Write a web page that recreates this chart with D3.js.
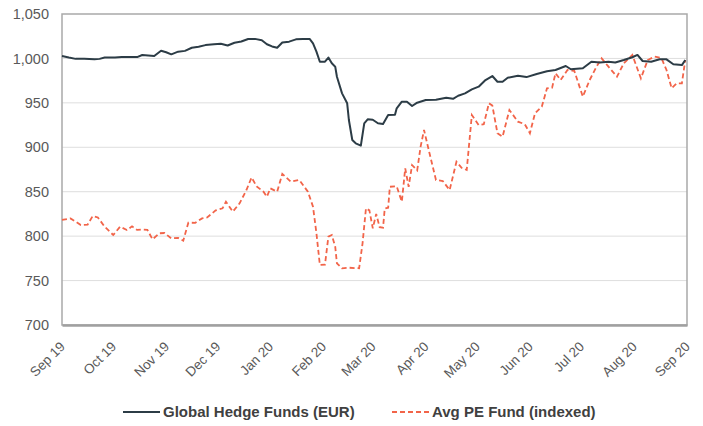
<!DOCTYPE html>
<html>
<head>
<meta charset="utf-8">
<script src="https://cdn.jsdelivr.net/npm/d3@7"></script>
<style>
  body { margin: 0; background: #fff; }
  svg { display: block; font-family: "Liberation Sans", Arial, sans-serif; }
</style>
</head>
<body>
<svg></svg>
<script>
// values
var monthTicks = ["2019-09-01", "2019-10-01", "2019-11-01", "2019-12-01", "2020-01-01", "2020-02-01",
  "2020-03-01", "2020-04-01", "2020-05-01", "2020-06-01", "2020-07-01", "2020-08-01", "2020-09-01"];
var yTicks = [700, 750, 800, 850, 900, 950, 1000, 1050];

var hedgeDates = ["2019-09-01", "2019-09-05", "2019-09-09", "2019-09-14", "2019-09-20", "2019-09-23", "2019-09-26",
  "2019-10-02", "2019-10-06", "2019-10-15", "2019-10-18", "2019-10-25", "2019-10-29",
  "2019-11-01", "2019-11-04", "2019-11-08", "2019-11-12", "2019-11-16", "2019-11-20", "2019-11-24", "2019-11-29",
  "2019-12-03", "2019-12-07", "2019-12-11", "2019-12-15", "2019-12-19", "2019-12-23", "2019-12-27", "2019-12-30",
  "2020-01-02", "2020-01-05", "2020-01-08", "2020-01-12", "2020-01-16", "2020-01-20", "2020-01-24", "2020-01-26", "2020-01-28", "2020-01-30",
  "2020-02-02", "2020-02-04", "2020-02-06", "2020-02-08", "2020-02-09", "2020-02-12", "2020-02-15", "2020-02-16", "2020-02-18", "2020-02-20", "2020-02-23", "2020-02-25", "2020-02-27",
  "2020-03-01", "2020-03-04", "2020-03-07", "2020-03-10", "2020-03-14", "2020-03-15", "2020-03-18", "2020-03-21", "2020-03-24", "2020-03-27",
  "2020-04-01", "2020-04-07", "2020-04-13", "2020-04-17", "2020-04-20", "2020-04-24", "2020-04-28",
  "2020-05-02", "2020-05-06", "2020-05-10", "2020-05-13", "2020-05-16", "2020-05-19", "2020-05-25", "2020-05-30",
  "2020-06-05", "2020-06-11", "2020-06-16", "2020-06-22", "2020-06-25",
  "2020-07-02", "2020-07-07", "2020-07-12", "2020-07-17", "2020-07-21", "2020-07-26", "2020-07-31",
  "2020-08-03", "2020-08-06", "2020-08-11", "2020-08-16", "2020-08-20", "2020-08-24", "2020-08-29", "2020-08-31"];
var hedgeValues = [1002.7, 1001, 999.5, 999.5, 999, 999.5, 1001,
  1001, 1001.5, 1001.5, 1003.9, 1002.7, 1008.7,
  1007, 1004.6, 1007.6, 1008.5, 1012, 1013.2, 1015, 1016,
  1016.5, 1014.6, 1017.7, 1019, 1021.9, 1022, 1020.5, 1016,
  1013.5, 1012, 1018, 1018.9, 1021.5, 1022, 1022, 1017, 1007.6, 996.3,
  996.3, 1001, 994.5, 990.7, 979.4, 960.7, 949.5, 930.7, 908.2, 904.5, 901.8, 927, 931.5,
  931, 927, 926.2, 936.3, 936.5, 943.9, 951.3, 951.3, 946.5, 950.2,
  953.2, 953.5, 955.8, 954.5, 958, 960.7, 965.2,
  968.2, 975.7, 980.2, 973.8, 973.8, 978.3, 980.6, 979,
  982.5, 985.5, 987, 991.5, 987.8,
  988.9, 996.3, 995.5, 996.3, 995.5, 998.2, 1001.3,
  1003.9, 997.1, 996.3, 999, 999, 993.4, 992.5, 998.2];

var peDates = ["2019-09-01", "2019-09-06", "2019-09-12", "2019-09-16", "2019-09-19", "2019-09-22", "2019-09-26",
  "2019-10-01", "2019-10-05", "2019-10-09", "2019-10-12", "2019-10-15", "2019-10-18", "2019-10-21", "2019-10-24", "2019-10-28", "2019-10-31",
  "2019-11-04", "2019-11-08", "2019-11-11", "2019-11-14", "2019-11-18", "2019-11-22", "2019-11-25", "2019-11-30",
  "2019-12-04", "2019-12-06", "2019-12-10", "2019-12-14", "2019-12-18", "2019-12-21", "2019-12-24", "2019-12-28", "2019-12-30",
  "2020-01-01", "2020-01-05", "2020-01-08", "2020-01-13", "2020-01-18", "2020-01-23", "2020-01-26", "2020-01-28", "2020-01-30",
  "2020-02-02", "2020-02-04", "2020-02-06", "2020-02-08", "2020-02-09", "2020-02-12", "2020-02-16", "2020-02-22", "2020-02-24", "2020-02-26", "2020-02-28",
  "2020-03-01", "2020-03-03", "2020-03-05", "2020-03-07", "2020-03-08", "2020-03-10", "2020-03-11", "2020-03-15", "2020-03-18", "2020-03-20", "2020-03-22", "2020-03-24", "2020-03-27", "2020-03-29", "2020-03-31",
  "2020-04-03", "2020-04-07", "2020-04-11", "2020-04-15", "2020-04-19", "2020-04-22", "2020-04-25", "2020-04-28",
  "2020-05-02", "2020-05-05", "2020-05-08", "2020-05-10", "2020-05-13", "2020-05-16", "2020-05-20", "2020-05-25", "2020-05-29",
  "2020-06-01", "2020-06-04", "2020-06-08", "2020-06-11", "2020-06-14", "2020-06-16", "2020-06-19", "2020-06-23", "2020-06-27",
  "2020-07-02", "2020-07-06", "2020-07-10", "2020-07-13", "2020-07-17", "2020-07-22", "2020-07-26", "2020-07-31",
  "2020-08-05", "2020-08-09", "2020-08-13", "2020-08-17", "2020-08-20", "2020-08-23", "2020-08-26", "2020-08-29", "2020-08-31"];
var peValues = [818.2, 820, 812.5, 813, 822.7, 821, 810.6,
  801.3, 810.6, 806.9, 811, 807, 807.5, 807, 796.4, 803.2, 803.5,
  797.5, 798, 794.9, 815.1, 815, 820, 821, 829,
  831.3, 838.8, 827.5, 836.9, 851.9, 866, 856, 850, 844.4,
  853.8, 850, 870, 861.3, 863.2, 850, 833.1, 803.2, 767.5,
  768, 799.4, 801.3, 788.1, 769.4, 763.8, 764.5, 763.8, 791.9, 831.3, 829,
  808.8, 825, 810, 809.5, 831, 832, 855.6, 856, 838.8, 876.3, 855.6, 880, 874, 900.7, 919.5,
  895, 863.2, 862, 851.9, 883.8, 877, 874.4, 936.3,
  925, 926, 949.5, 947, 915.8, 911.9, 942, 928.8, 926,
  915.8, 938.3, 945.8, 966.4, 967, 983.3, 975.7, 987, 986,
  957, 975.7, 990.7, 1000.1, 990.7, 979.4, 994.5, 1003.9,
  977.6, 998.2, 1002, 1000.5, 987, 966.4, 972, 972, 998.2];

var seriesNames = ["Global Hedge Funds (EUR)", "Avg PE Fund (indexed)"];

var parseDate = d3.timeParse("%Y-%m-%d");

function toPoints(dates, values) {
  return dates.map(function(d, i) {
    return { date: parseDate(d), value: values[i] };
  });
}

var hedge = toPoints(hedgeDates, hedgeValues);
var pe = toPoints(peDates, peValues);

var svg = d3.select("svg").attr("width", 703).attr("height", 426);
var margin = { top: 14, right: 16, bottom: 101, left: 62 },
  width = 703 - margin.left - margin.right,
  height = 426 - margin.top - margin.bottom;

var xScale = d3
  .scaleTime()
  .domain([parseDate(monthTicks[0]), parseDate(monthTicks[monthTicks.length - 1])])
  .range([0, width]);
var yScale = d3.scaleLinear().domain([700, 1050]).range([height, 0]);

var g = svg
  .append("g")
  .attr("transform", "translate(" + margin.left + "," + margin.top + ")");

// gridlines
g.append("g")
  .selectAll("line")
  .data(yTicks.slice(1, -1))
  .enter()
  .append("line")
  .attr("x1", 0)
  .attr("x2", width)
  .attr("y1", function(d) { return yScale(d); })
  .attr("y2", function(d) { return yScale(d); })
  .attr("stroke", "#dedede")
  .attr("stroke-width", 1);

// plot frame
g.append("rect")
  .attr("x", 0)
  .attr("y", 0)
  .attr("width", width)
  .attr("height", height)
  .attr("fill", "none")
  .attr("stroke", "#a9a9a9")
  .attr("stroke-width", 1.5);

// y axis
var yAxis = g.append("g")
  .call(
    d3.axisLeft(yScale)
      .tickValues(yTicks)
      .tickSize(0)
      .tickPadding(13)
      .tickFormat(d3.format(","))
  );
yAxis.select(".domain").remove();
yAxis.selectAll("text")
  .attr("fill", "#595959")
  .attr("font-size", "14.5px");

// x axis
var xAxis = g.append("g")
  .attr("transform", "translate(0," + height + ")")
  .call(
    d3.axisBottom(xScale)
      .tickValues(monthTicks.map(parseDate))
      .tickSize(0)
      .tickFormat(d3.timeFormat("%b %y"))
  );
xAxis.select(".domain")
  .attr("stroke", "#a0a0a0")
  .attr("stroke-width", 2.5);
xAxis.selectAll("text")
  .attr("fill", "#595959")
  .attr("font-size", "13.5px")
  .attr("text-anchor", "end")
  .attr("y", 0)
  .attr("dy", "0.35em")
  .attr("transform", "translate(0,19) rotate(-45)");

// lines
var line = d3
  .line()
  .x(function(d) { return xScale(d.date); })
  .y(function(d) { return yScale(d.value); });

g.append("path")
  .datum(pe)
  .attr("fill", "none")
  .attr("stroke", "#f26449")
  .attr("stroke-width", 1.8)
  .attr("stroke-dasharray", "5,3")
  .attr("d", line);

g.append("path")
  .datum(hedge)
  .attr("fill", "none")
  .attr("stroke", "#2c3c46")
  .attr("stroke-width", 2)
  .attr("stroke-linejoin", "round")
  .attr("d", line);

// legend
var legend = svg.append("g").attr("transform", "translate(0,412)");
var legendX = [123, 392];
var legendStyle = [
  { color: "#2c3c46", dash: null, w: 2 },
  { color: "#f26449", dash: "5,3", w: 1.8 }
];

seriesNames.forEach(function(name, i) {
  legend.append("line")
    .attr("x1", legendX[i])
    .attr("x2", legendX[i] + 37)
    .attr("y1", 0)
    .attr("y2", 0)
    .attr("stroke", legendStyle[i].color)
    .attr("stroke-width", legendStyle[i].w)
    .attr("stroke-dasharray", legendStyle[i].dash);
  legend.append("text")
    .attr("x", legendX[i] + 40)
    .attr("y", 0)
    .attr("dy", "0.35em")
    .attr("fill", "#404040")
    .attr("font-size", "15px")
    .attr("font-weight", "bold")
    .text(name);
});
</script>
</body>
</html>
